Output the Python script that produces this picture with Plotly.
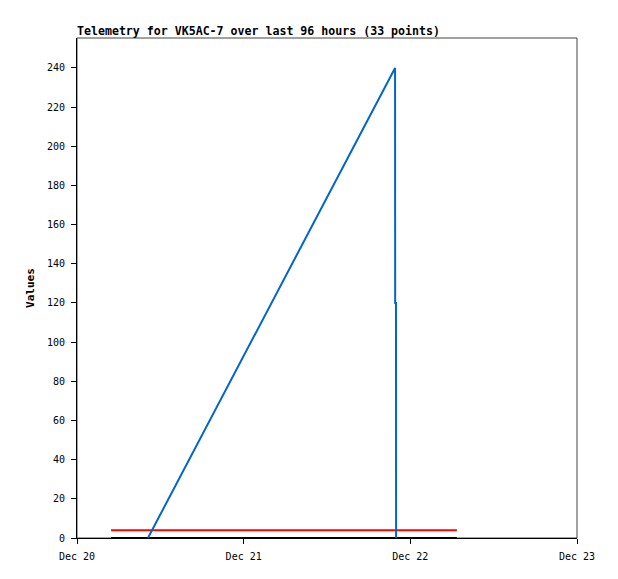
import plotly.graph_objects as go

# ---------- Data ----------
value_times = ["2024-12-20 10:13", "2024-12-21 21:48", "2024-12-21 21:49",
               "2024-12-21 21:56", "2024-12-21 21:57"]
value_series = [0, 240, 120, 120, 0]

limit_times = ["2024-12-20 04:54", "2024-12-22 06:42"]
upper_series = [4, 4]
lower_series = [0, 0]

tick_dates = ["2024-12-20", "2024-12-21", "2024-12-22", "2024-12-23"]
tick_labels = ["Dec 20", "Dec 21", "Dec 22", "Dec 23"]
y_ticks = list(range(0, 241, 20))

MONO = "DejaVu Sans Mono, monospace"

fig = go.Figure()

fig.add_trace(go.Scatter(
    x=limit_times, y=lower_series, mode="lines",
    line=dict(color="#000000", width=2), showlegend=False
))
fig.add_trace(go.Scatter(
    x=limit_times, y=upper_series, mode="lines",
    line=dict(color="#FF0000", width=2), showlegend=False
))
fig.add_trace(go.Scatter(
    x=value_times, y=value_series, mode="lines",
    line=dict(color="#0066CC", width=2), showlegend=False
))

# grey frame on top/right, black axes left/bottom
fig.add_shape(type="rect", xref="paper", yref="paper", x0=0, x1=1, y0=0, y1=1,
              line=dict(color="#444444", width=1), layer="below")

# page body adds 8px offset, so margins are shifted accordingly
fig.update_layout(
    width=618, height=579,
    margin=dict(l=69, r=49, t=30, b=49),
    plot_bgcolor="white", paper_bgcolor="white",
    font=dict(family=MONO, size=10, color="#000000"),
    title=dict(
        text="<b>Telemetry for VK5AC-7 over last 96 hours (33 points)</b>",
        x=69 / 618, xanchor="left", xref="container",
        y=1 - 23 / 579, yanchor="middle", yref="container",
        font=dict(family=MONO, size=11.6, color="#000000")
    ),
    xaxis=dict(
        range=["2024-12-20", "2024-12-23"],
        tickvals=tick_dates, ticktext=tick_labels,
        showgrid=False, zeroline=False,
        showline=True, linecolor="#000000", linewidth=1,
        ticks="outside", ticklen=5, tickcolor="#000000",
        ticklabelstandoff=4,
        tickfont=dict(family=MONO, size=10)
    ),
    yaxis=dict(
        range=[0, 255.3],
        tickvals=y_ticks,
        showgrid=False, zeroline=False,
        showline=True, linecolor="#000000", linewidth=1,
        ticks="outside", ticklen=5, tickcolor="#000000",
        ticklabelstandoff=4,
        tickfont=dict(family=MONO, size=10),
        title=dict(text="<b>Values</b>", font=dict(family=MONO, size=11), standoff=10)
    )
)

fig.write_html("out.html")
